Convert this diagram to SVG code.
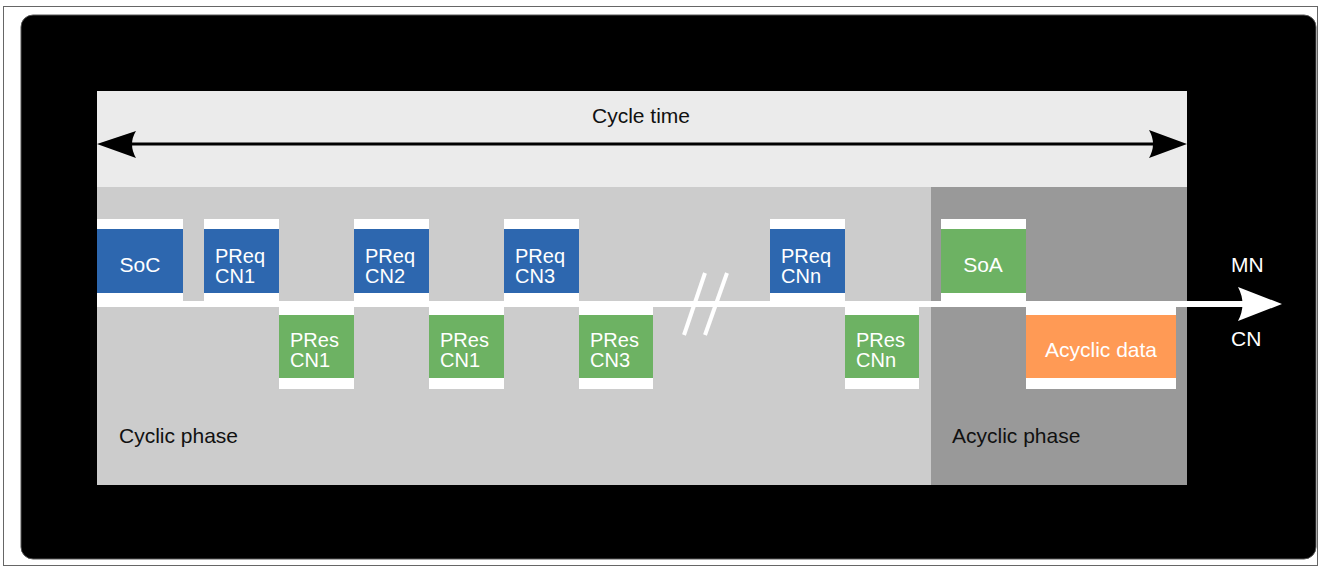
<svg xmlns="http://www.w3.org/2000/svg" width="1321" height="569" viewBox="0 0 1321 569">
<style>
text{font-family:"Liberation Sans",Arial,sans-serif;font-size:21px}
.w{fill:#ffffff}
.lbl{fill:#ffffff}
.two{font-size:20px}
.dk{fill:#111111}
.blue{fill:#2D67AF}
.green{fill:#6DB263}
.orange{fill:#FF9A55}
</style>
<rect x="3.5" y="6.5" width="1314" height="559" fill="#ffffff" stroke="#666666" stroke-width="1"/>
<rect x="21" y="15" width="1295" height="544" rx="12" ry="12" fill="#000000" stroke="#555555" stroke-width="1"/>
<g id="cycle-band">
<rect x="97" y="91" width="1090" height="96" fill="#EBEBEB"/>
<text class="dk" x="641" y="123" text-anchor="middle">Cycle time</text>
</g>
<g id="cyclic-phase">
<rect x="97" y="187" width="834" height="298" fill="#CCCCCC"/>
<text class="dk" x="119" y="443">Cyclic phase</text>
</g>
<g id="acyclic-phase">
<rect x="931" y="187" width="256" height="298" fill="#999999"/>
<text class="dk" x="952" y="443">Acyclic phase</text>
</g>
<g id="connectors">
<line x1="125" y1="144" x2="1160" y2="144" stroke="#000000" stroke-width="3"/>
<path d="M97,144 L136,131 Q128,144 136,158 Z" fill="#000000"/>
<path d="M1187,144 L1149,130 Q1157,144 1149,158 Z" fill="#000000"/>
<rect x="97" y="301" width="1148" height="6" fill="#ffffff"/>
<path d="M1282,304 L1238,287 Q1247,304 1238,321 Z" fill="#ffffff"/>
<line x1="684" y1="335" x2="705" y2="273" stroke="#ffffff" stroke-width="4"/>
<line x1="705" y1="335" x2="727" y2="273" stroke="#ffffff" stroke-width="4"/>
</g>
<g id="soc">
<rect class="w" x="97" y="219" width="86" height="82"/>
<rect class="blue" x="97" y="229" width="86" height="64"/>
<text class="lbl" x="140" y="272" text-anchor="middle">SoC</text>
</g>
<g id="preq-cn1">
<rect class="w" x="204" y="219" width="75" height="82"/>
<rect class="blue" x="204" y="229" width="75" height="64"/>
<text class="lbl two" x="215" y="263">PReq</text>
<text class="lbl two" x="215" y="283">CN1</text>
</g>
<g id="pres-cn1">
<rect class="w" x="279" y="307" width="75" height="82"/>
<rect class="green" x="279" y="315" width="75" height="63"/>
<text class="lbl two" x="290" y="347">PRes</text>
<text class="lbl two" x="290" y="367">CN1</text>
</g>
<g id="preq-cn2">
<rect class="w" x="354" y="219" width="75" height="82"/>
<rect class="blue" x="354" y="229" width="75" height="64"/>
<text class="lbl two" x="365" y="263">PReq</text>
<text class="lbl two" x="365" y="283">CN2</text>
</g>
<g id="pres-cn1-b">
<rect class="w" x="429" y="307" width="75" height="82"/>
<rect class="green" x="429" y="315" width="75" height="63"/>
<text class="lbl two" x="440" y="347">PRes</text>
<text class="lbl two" x="440" y="367">CN1</text>
</g>
<g id="preq-cn3">
<rect class="w" x="504" y="219" width="75" height="82"/>
<rect class="blue" x="504" y="229" width="75" height="64"/>
<text class="lbl two" x="515" y="263">PReq</text>
<text class="lbl two" x="515" y="283">CN3</text>
</g>
<g id="pres-cn3">
<rect class="w" x="579" y="307" width="74" height="82"/>
<rect class="green" x="579" y="315" width="74" height="63"/>
<text class="lbl two" x="590" y="347">PRes</text>
<text class="lbl two" x="590" y="367">CN3</text>
</g>
<g id="preq-cnn">
<rect class="w" x="770" y="219" width="75" height="82"/>
<rect class="blue" x="770" y="229" width="75" height="64"/>
<text class="lbl two" x="781" y="263">PReq</text>
<text class="lbl two" x="781" y="283">CNn</text>
</g>
<g id="pres-cnn">
<rect class="w" x="845" y="307" width="74" height="82"/>
<rect class="green" x="845" y="315" width="74" height="63"/>
<text class="lbl two" x="856" y="347">PRes</text>
<text class="lbl two" x="856" y="367">CNn</text>
</g>
<g id="soa">
<rect class="w" x="941" y="219" width="85" height="82"/>
<rect class="green" x="941" y="229" width="85" height="64"/>
<text class="lbl" x="983" y="272" text-anchor="middle">SoA</text>
</g>
<g id="acyclic-data">
<rect class="w" x="1026" y="307" width="150" height="82"/>
<rect class="orange" x="1026" y="315" width="150" height="63"/>
<text class="lbl" x="1101" y="357" text-anchor="middle">Acyclic data</text>
</g>
<g id="mn-cn">
<text class="lbl" x="1231" y="272">MN</text>
<text class="lbl" x="1231" y="346">CN</text>
</g>
</svg>
